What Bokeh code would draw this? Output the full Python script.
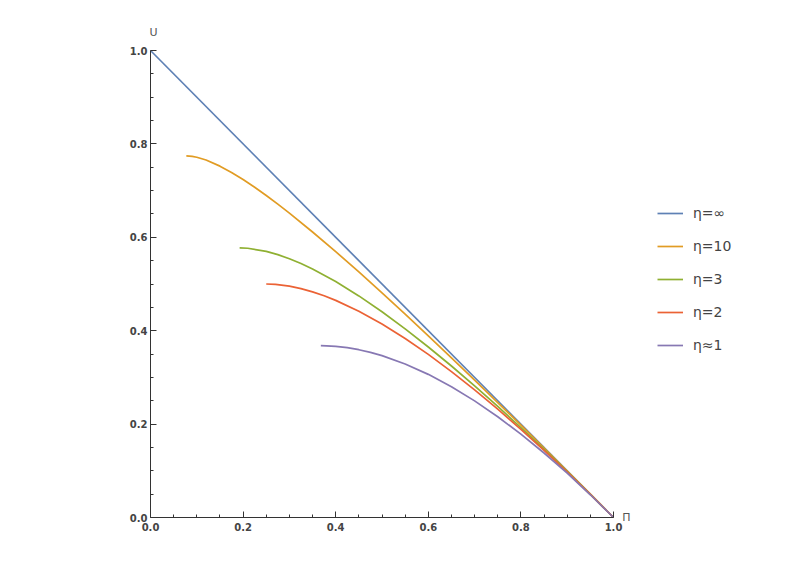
from bokeh.plotting import figure
from bokeh.models import Legend, LegendItem, Label, Range1d, FixedTicker, PrintfTickFormatter
from bokeh.embed import file_html
from bokeh.resources import INLINE

# eta = infinity
pi_inf = [0.0, 1.0]
u_inf = [1.0, 0.0]

# eta = 10
pi_10 = [0.0774, 0.09, 0.10, 0.12, 0.15, 0.175, 0.20, 0.225, 0.25, 0.275, 0.30, 0.35, 0.40,
         0.45, 0.50, 0.55, 0.60, 0.65, 0.70, 0.75, 0.80, 0.85, 0.90, 0.95, 1.0]
u_10 = [0.7743, 0.7733, 0.7714, 0.7654, 0.7524, 0.7389, 0.7237, 0.7071, 0.6896, 0.6710,
        0.6518, 0.6114, 0.5693, 0.5259, 0.4811, 0.4356, 0.3891, 0.3420, 0.2944, 0.2462,
        0.1977, 0.1488, 0.0995, 0.0499, 0.0]

# eta = 3
pi_3 = [0.1925, 0.21, 0.25, 0.275, 0.30, 0.325, 0.35, 0.40, 0.45, 0.50, 0.55, 0.60, 0.65,
        0.70, 0.75, 0.80, 0.85, 0.90, 0.95, 1.0]
u_3 = [0.5774, 0.5766, 0.5699, 0.5629, 0.5541, 0.5438, 0.5321, 0.5052, 0.4745, 0.4406,
       0.4040, 0.3651, 0.3244, 0.2819, 0.2378, 0.1925, 0.1459, 0.0982, 0.0496, 0.0]

# eta = 2
pi_2 = [0.25, 0.27, 0.30, 0.325, 0.35, 0.375, 0.40, 0.45, 0.50, 0.55, 0.60, 0.65, 0.70,
        0.75, 0.80, 0.85, 0.90, 0.95, 1.0]
u_2 = [0.5, 0.4992, 0.4954, 0.4902, 0.4832, 0.4747, 0.4649, 0.4416, 0.4142, 0.3832,
       0.3492, 0.3124, 0.2733, 0.2321, 0.1889, 0.1439, 0.0974, 0.0494, 0.0]

# eta ~ 1
pi_1 = [0.3679, 0.38, 0.40, 0.425, 0.45, 0.475, 0.50, 0.55, 0.60, 0.65, 0.70, 0.75, 0.80,
        0.85, 0.90, 0.95, 1.0]
u_1 = [0.3679, 0.3677, 0.3665, 0.3637, 0.3593, 0.3536, 0.3466, 0.3288, 0.3065, 0.2800,
       0.2497, 0.2158, 0.1785, 0.1381, 0.0948, 0.0487, 0.0]

labels = ["η=∞", "η=10", "η=3", "η=2", "η≈1"]
colors = ["#5E81B5", "#E19C24", "#8FB032", "#EB6235", "#8778B3"]
series = [(pi_inf, u_inf), (pi_10, u_10), (pi_3, u_3), (pi_2, u_2), (pi_1, u_1)]

major_ticks = [0.0, 0.2, 0.4, 0.6, 0.8, 1.0]
minor_ticks = [0.05, 0.10, 0.15, 0.25, 0.30, 0.35, 0.45, 0.50, 0.55,
               0.65, 0.70, 0.75, 0.85, 0.90, 0.95]

W, H = 778, 553
BL, BB = 40, 18
FX0, FX1 = 150.0, 613.0   # pixel of data 0 and 1 (x)
FY0, FY1 = 517.0, 50.0    # pixel of data 0 and 1 (y)
sx = FX1 - FX0
sy = FY0 - FY1
x_range = Range1d(-(FX0 - BL) / sx, 1 + (W - FX1) / sx)
y_range = Range1d(-((H - BB) - FY0) / sy, 1 + FY1 / sy)

p = figure(width=W, height=H, output_backend="svg", toolbar_location=None,
           x_range=x_range, y_range=y_range,
           min_border_left=BL, min_border_right=0, min_border_top=0, min_border_bottom=BB)
p.outline_line_color = None
p.grid.visible = False

for ax in (p.xaxis[0], p.yaxis[0]):
    ax.fixed_location = 0
    ax.bounds = (0, 1)
    ax.ticker = FixedTicker(ticks=major_ticks, minor_ticks=minor_ticks)
    ax.formatter = PrintfTickFormatter(format="%.1f")
    ax.major_tick_in = 6
    ax.major_tick_out = 0
    ax.minor_tick_in = 3
    ax.minor_tick_out = 0
    ax.axis_line_color = "#333333"
    ax.major_tick_line_color = "#333333"
    ax.minor_tick_line_color = "#333333"
    ax.major_label_text_font = "DejaVu Sans"
    ax.major_label_text_font_size = "10px"
    ax.major_label_text_color = "#444444"
    ax.major_label_text_font_style = "bold"
p.xaxis.major_label_standoff = 5
p.yaxis.major_label_standoff = 3

items = []
for (xs, ys), c, lab in zip(series, colors, labels):
    r = p.line(xs, ys, line_color=c, line_width=1.7, line_join="round")
    items.append(LegendItem(label=lab, renderers=[r]))

# legend position in frame pixels (from the frame's bottom-left corner)
legend = Legend(items=items, location=(657 - BL, (H - BB) - 355), orientation="vertical",
                padding=0, margin=0, spacing=13, glyph_width=26, glyph_height=20,
                label_height=20, label_standoff=10, label_text_font="DejaVu Sans",
                label_text_font_size="14px", label_text_color="#444444",
                border_line_color=None, background_fill_alpha=0)
p.add_layout(legend, "center")

p.add_layout(Label(x=0, y=1, x_offset=3, y_offset=12, text="U", text_align="center",
                   text_baseline="bottom", text_font="DejaVu Sans", text_font_size="11px",
                   text_color="#555555"))
p.add_layout(Label(x=1, y=0, x_offset=13, y_offset=0, text="Π", text_align="center",
                   text_baseline="middle", text_font="DejaVu Sans", text_font_size="11px",
                   text_color="#555555"))

open("out.html", "w").write(file_html(p, INLINE))
